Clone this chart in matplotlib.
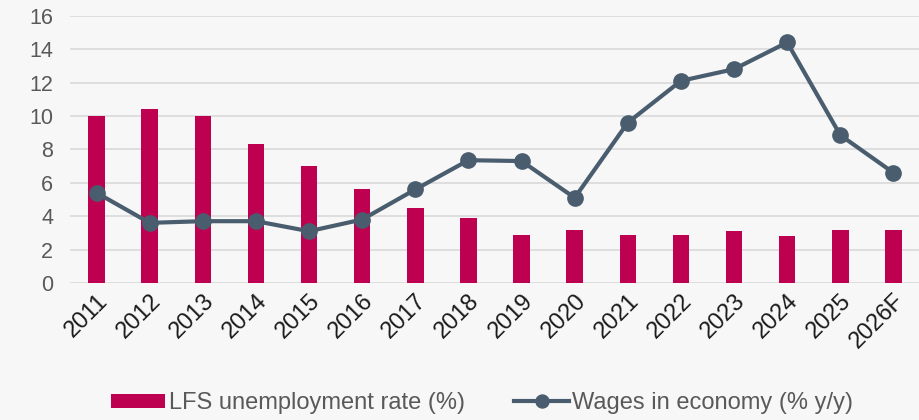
import matplotlib
matplotlib.use("Agg")
import matplotlib.pyplot as plt
import numpy as np

years = ["2011", "2012", "2013", "2014", "2015", "2016", "2017", "2018",
         "2019", "2020", "2021", "2022", "2023", "2024", "2025", "2026F"]
unemployment = [10.0, 10.4, 10.0, 8.3, 7.0, 5.6, 4.5, 3.9,
                2.9, 3.2, 2.9, 2.9, 3.1, 2.8, 3.2, 3.2]
wages = [5.4, 3.6, 3.7, 3.7, 3.1, 3.8, 5.6, 7.35,
         7.3, 5.1, 9.6, 12.1, 12.8, 14.4, 8.85, 6.6]
y_ticks = [0, 2, 4, 6, 8, 10, 12, 14, 16]

bg = "#f7f7f7"
bar_color = "#be0050"
line_color = "#4a5d6e"
text_color = "#595959"

plt.rcParams["font.family"] = ["Liberation Sans", "DejaVu Sans"]

fig = plt.figure(figsize=(9.2, 4.2), dpi=100, facecolor=bg)
ax = fig.add_axes([70 / 920, 137 / 420, 850 / 920, 267.3 / 420])
ax.set_facecolor(bg)

x = np.arange(len(years))
bars = ax.bar(x, unemployment, width=0.31, color=bar_color, zorder=2,
              label="LFS unemployment rate (%)")
line, = ax.plot(x, wages, color=line_color, linewidth=3, marker="o",
                markersize=11, zorder=3, label="Wages in economy (% y/y)")

ax.set_xlim(-0.5, len(years) - 0.5)
ax.set_ylim(0, 16)
ax.set_yticks(y_ticks)
ax.set_xticks(x)
ax.set_xticklabels(years, rotation=45, ha="right", rotation_mode="anchor")
ax.tick_params(axis="y", length=0, labelsize=15.5, colors=text_color, pad=12)
ax.tick_params(axis="x", length=0, labelsize=17, colors="#1a1a1a", pad=5)

ax.grid(axis="y", color="#d9d9d9", linewidth=1.2, zorder=0)
ax.set_axisbelow(True)
for s in ax.spines.values():
    s.set_visible(False)

fig.legend(handles=[bars, line], loc="center", bbox_to_anchor=(0.524, 0.04),
           ncol=2, frameon=False, labelcolor=text_color,
           prop={"size": 17},
           handlelength=2.3, handleheight=0.55, handletextpad=0.15,
           columnspacing=2.1, markerscale=0.85)

fig.savefig("out.png", dpi=100, facecolor=bg)
